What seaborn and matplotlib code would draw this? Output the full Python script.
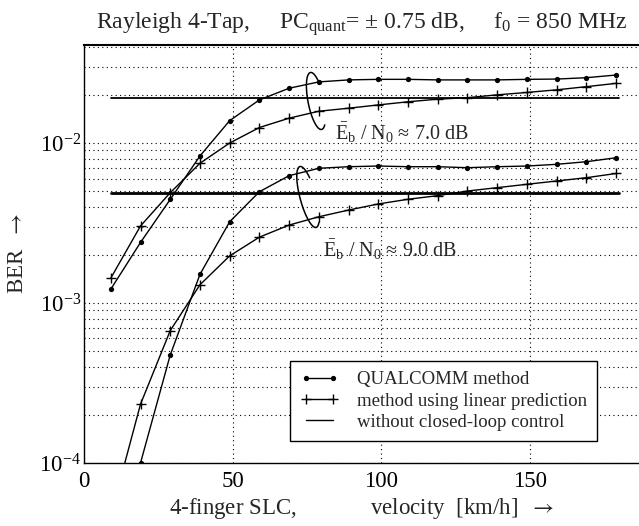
import matplotlib
matplotlib.use("Agg")
import matplotlib.pyplot as plt
import numpy as np
import pandas as pd
import seaborn as sns
from matplotlib.lines import Line2D
from matplotlib.ticker import LogLocator, LogFormatterMathtext, NullFormatter

# velocities of the simulated points [km/h]
velocity = [9, 19, 29, 39, 49, 59, 69, 79, 89, 99, 109, 119, 129, 139, 149, 159, 169, 179]

# Eb/N0 = 7.0 dB
qualcomm_7db = [1.22e-3, 2.39e-3, 4.44e-3, 8.3e-3, 1.38e-2, 1.86e-2, 2.20e-2, 2.41e-2, 2.48e-2,
                2.50e-2, 2.50e-2, 2.48e-2, 2.48e-2, 2.48e-2, 2.50e-2, 2.51e-2, 2.56e-2, 2.66e-2]
linpred_7db = [1.43e-3, 3.03e-3, 4.89e-3, 7.47e-3, 1.0e-2, 1.25e-2, 1.43e-2, 1.58e-2, 1.65e-2,
               1.73e-2, 1.81e-2, 1.88e-2, 1.92e-2, 2.0e-2, 2.07e-2, 2.15e-2, 2.25e-2, 2.36e-2]
open_loop_7db = 1.9e-2

# Eb/N0 = 9.0 dB (first points lie below the plotted range)
velocity_9db = [9, 19, 29, 39, 49, 59, 69, 79, 89, 99, 109, 119, 129, 139, 149, 159, 169, 179]
qualcomm_9db = [2.0e-5, 1.0e-4, 4.73e-4, 1.51e-3, 3.22e-3, 4.96e-3, 6.25e-3, 6.95e-3, 7.11e-3,
                7.18e-3, 7.11e-3, 7.11e-3, 7.01e-3, 7.11e-3, 7.18e-3, 7.36e-3, 7.64e-3, 8.09e-3]
linpred_9db = [4.7e-5, 2.33e-4, 6.72e-4, 1.30e-3, 1.97e-3, 2.58e-3, 3.07e-3, 3.46e-3, 3.81e-3,
               4.16e-3, 4.45e-3, 4.69e-3, 5.01e-3, 5.26e-3, 5.52e-3, 5.79e-3, 6.07e-3, 6.45e-3]
open_loop_9db = 4.9e-3
open_loop_span = [9, 180]

legend_labels = ["QUALCOMM method", "method using linear prediction", "without closed-loop control"]

sns.set_style("white")
plt.rcParams["font.family"] = ["Liberation Serif", "DejaVu Serif"]
plt.rcParams["mathtext.fontset"] = "custom"
plt.rcParams["mathtext.rm"] = "Liberation Serif"
plt.rcParams["mathtext.it"] = "Liberation Serif:italic"
plt.rcParams["mathtext.bf"] = "Liberation Serif:bold"

fig = plt.figure(figsize=(6.39, 5.26), dpi=100)
ax = fig.add_axes([0.1315, 0.1198, 0.8685, 0.7947])

dot_kw = dict(color="black", lw=1.0, marker="o", markersize=3.8, markeredgewidth=0)
plus_kw = dict(color="black", lw=1.0, marker="+", markersize=7, markeredgewidth=1.0,
               markeredgecolor="black")

sns.lineplot(x=velocity, y=qualcomm_7db, ax=ax, **dot_kw)
sns.lineplot(x=velocity, y=linpred_7db, ax=ax, **plus_kw)
sns.lineplot(x=velocity_9db, y=qualcomm_9db, ax=ax, **dot_kw)
sns.lineplot(x=velocity_9db, y=linpred_9db, ax=ax, **plus_kw)
ax.plot(open_loop_span, [open_loop_7db] * 2, color="black", lw=1.3)
ax.plot(open_loop_span, [open_loop_9db] * 2, color="black", lw=2.0)

ax.set_yscale("log")
ax.set_xlim(0, 186.7)
ax.set_ylim(1e-4, 0.041)
ax.set_xticks([0, 50, 100, 150])
ax.yaxis.set_major_locator(LogLocator(base=10))
ax.yaxis.set_major_formatter(LogFormatterMathtext())
ax.yaxis.set_minor_locator(LogLocator(base=10, subs=np.arange(2, 10)))
ax.yaxis.set_minor_formatter(NullFormatter())

grid_kw = dict(color="black", linestyle=(0, (1, 3)), linewidth=0.8)
ax.grid(True, which="major", axis="x", **grid_kw)
ax.grid(True, which="both", axis="y", **grid_kw)

ax.tick_params(axis="both", which="major", direction="in", length=4, width=0.8,
               labelsize=16.5, colors="black")
ax.tick_params(axis="x", which="major", pad=6)
ax.tick_params(axis="y", which="major", pad=2)
ax.tick_params(axis="y", which="minor", direction="in", length=2.5, width=0.6)
for side in ["left", "bottom", "top"]:
    ax.spines[side].set_color("black")
    ax.spines[side].set_linewidth(1.0)
ax.spines["top"].set_linewidth(1.5)
ax.spines["right"].set_visible(False)

ax.set_title(r"Rayleigh 4-Tap,     PC$_\mathrm{quant}$= ± 0.75 dB,     f$_0$ = 850 MHz",
             fontsize=17, pad=12)
ax.set_xlabel(r"4-finger SLC,             velocity  [km/h]  $\rightarrow$", fontsize=16.5,
              labelpad=3, math_fontfamily="stix")
ax.set_ylabel(r"BER  $\rightarrow$", fontsize=16.5, labelpad=8, math_fontfamily="stix")

ax.text(84.4, 0.0116, r"$\bar{\mathrm{E}}_\mathrm{b}$ / N$_0$ ≈ 7.0 dB", fontsize=14.5,
        ha="left", va="center")
ax.text(80.4, 0.00214, r"$\bar{\mathrm{E}}_\mathrm{b}$ / N$_0$ ≈ 9.0 dB", fontsize=14.5,
        ha="left", va="center")


# open loops that bundle each pair of curves (pixel geometry -> axes fraction)
def draw_loop(cx, cy, semi_w, semi_h, tilt_deg):
    t = np.radians(np.linspace(35, 300, 120))
    x0 = semi_w * np.cos(t)
    y0 = semi_h * np.sin(t)
    a = np.radians(tilt_deg)
    px = cx + x0 * np.cos(a) - y0 * np.sin(a)
    py = cy + x0 * np.sin(a) + y0 * np.cos(a)
    fx = (px - 84) / 555.0
    fy = py / 418.0
    ax.plot(fx, fy, color="black", lw=1.1, transform=ax.transAxes, clip_on=False)


draw_loop(316, 463 - 101, 8, 29, 11)
draw_loop(308, 463 - 197, 8, 31.5, 15)

handles = [
    Line2D([], [], **dot_kw),
    Line2D([], [], **plus_kw),
    Line2D([], [], color="black", lw=1.0),
]
leg = ax.legend(handles, legend_labels, loc="lower left", bbox_to_anchor=(0.372, 0.052),
                fontsize=13.5, numpoints=2, handlelength=2.0, handletextpad=1.0,
                labelspacing=0.22, borderpad=0.55, borderaxespad=0, fancybox=False,
                framealpha=1, edgecolor="black")
leg.get_frame().set_linewidth(1.0)

fig.savefig("out.png", dpi=100)
